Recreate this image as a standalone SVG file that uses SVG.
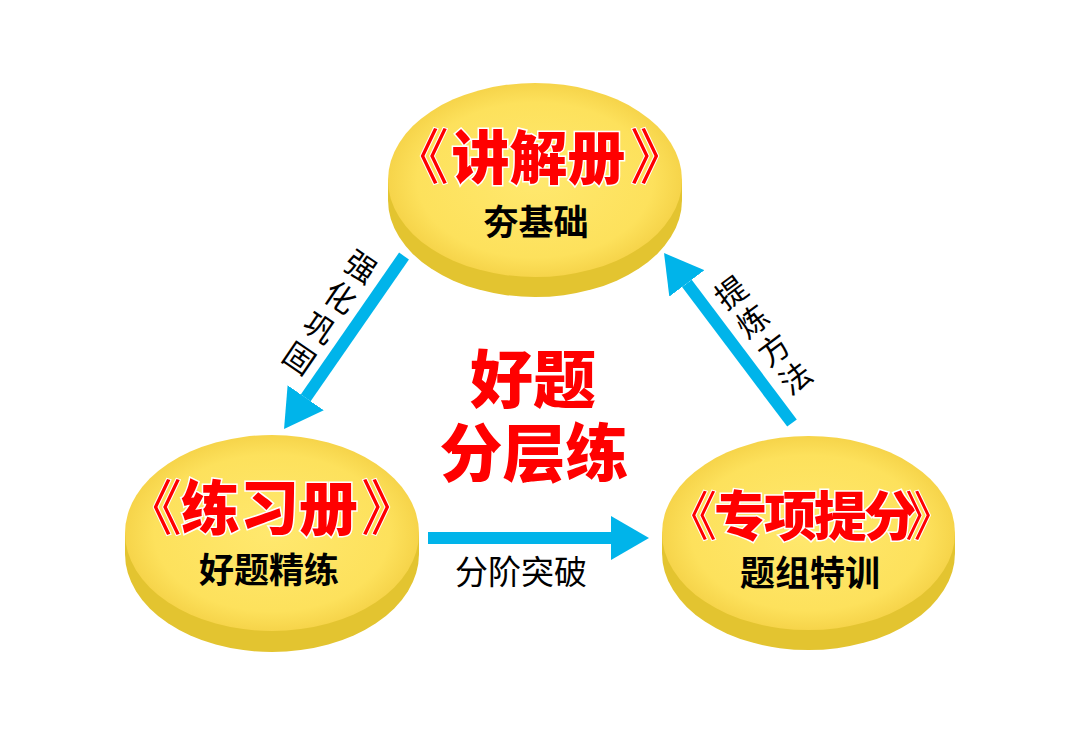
<svg xmlns="http://www.w3.org/2000/svg" width="1080" height="748" viewBox="0 0 1080 748">
<style>
.cjk{font-family:"Noto Sans CJK SC","Noto Sans",sans-serif}
.title{font-weight:900;fill:#FF0000;stroke:#FFFFFF;stroke-width:3;paint-order:stroke}
.br{font-weight:400;fill:#FF0000;stroke:#FFFFFF;stroke-width:2;paint-order:stroke}
.sub{font-size:35px;font-weight:700;fill:#000000;text-anchor:middle}
.big{font-size:63px;font-weight:900;fill:#FF0000;text-anchor:middle}
.lbl{font-size:31px;font-weight:400;fill:#000000;text-anchor:middle;dominant-baseline:central}
.side{fill:#E3C430}
.face{fill:url(#faceGrad)}
.conn{stroke:#00B4EA;stroke-width:12;fill:none;marker-end:url(#head)}
</style>
<defs>
<radialGradient id="faceGrad" cx="0.5" cy="0.5" r="0.5">
<stop offset="0" stop-color="#FFE86E"/>
<stop offset="0.8" stop-color="#FDE15C"/>
<stop offset="1" stop-color="#F6D44A"/>
</radialGradient>
<marker id="head" viewBox="0 0 38 44" refX="0" refY="22" markerWidth="38" markerHeight="44" markerUnits="userSpaceOnUse" orient="auto">
<path d="M0,0 L38,22 L0,44 Z" fill="#00B4EA"/>
</marker>
</defs>
<rect width="1080" height="748" fill="#FFFFFF"/>

<g id="connectors">
<line class="conn" x1="404" y1="256" x2="305.7" y2="397.8"/>
<line class="conn" x1="428" y1="538" x2="611" y2="538"/>
<line class="conn" x1="792" y1="423" x2="686.9" y2="283.4"/>
</g>

<g id="label-qianghua" class="cjk">
<text class="lbl" transform="translate(362,265) rotate(34.3)">强</text>
<text class="lbl" transform="translate(341.5,295.5) rotate(34.3)">化</text>
<text class="lbl" transform="translate(321,326) rotate(34.3)">巩</text>
<text class="lbl" transform="translate(300.5,356.5) rotate(34.3)">固</text>
</g>
<g id="label-tilian" class="cjk">
<text class="lbl" transform="translate(730,291) rotate(-36.6)">提</text>
<text class="lbl" transform="translate(751.5,319.5) rotate(-36.6)">炼</text>
<text class="lbl" transform="translate(773,348) rotate(-36.6)">方</text>
<text class="lbl" transform="translate(794.5,376.5) rotate(-36.6)">法</text>
</g>
<g id="label-fenjie" class="cjk">
<text x="521" y="584" style="font-size:33px;font-weight:400;fill:#000;text-anchor:middle">分阶突破</text>
</g>

<g id="node-jiangjie">
<rect class="side" x="388" y="180" width="294" height="20"/>
<ellipse class="side" cx="535" cy="200" rx="147" ry="97"/>
<ellipse class="face" cx="535" cy="180" rx="147" ry="97"/>
<text class="cjk title" y="179"><tspan class="br" x="389" style="font-size:60px">《</tspan><tspan x="451.5" style="font-size:58px">讲解册</tspan><tspan class="br" x="630" style="font-size:60px">》</tspan></text>
<text class="cjk sub" x="536" y="235">夯基础</text>
</g>

<g id="node-lianxi">
<rect class="side" x="125" y="533" width="294" height="21"/>
<ellipse class="side" cx="272" cy="554" rx="147" ry="98"/>
<ellipse class="face" cx="272" cy="533" rx="147" ry="98"/>
<text class="cjk title" y="530"><tspan class="br" x="122" style="font-size:60px">《</tspan><tspan x="181" style="font-size:59px">练习册</tspan><tspan class="br" x="361" style="font-size:60px">》</tspan></text>
<text class="cjk sub" x="269" y="583">好题精练</text>
</g>

<g id="node-zhuanxiang">
<rect class="side" x="662" y="533" width="293" height="20"/>
<ellipse class="side" cx="808.5" cy="553" rx="146.5" ry="97"/>
<ellipse class="face" cx="808.5" cy="533" rx="146.5" ry="97"/>
<text class="cjk title" y="536" style="font-size:53px"><tspan class="br" x="664">《</tspan><tspan x="714 764 814 864">专项提分</tspan><tspan class="br" x="905">》</tspan></text>
<text class="cjk sub" x="810" y="586">题组特训</text>
</g>

<g id="center-title" class="cjk">
<text class="big"><tspan x="533" y="402">好题</tspan><tspan x="534" y="476">分层练</tspan></text>
</g>
</svg>
